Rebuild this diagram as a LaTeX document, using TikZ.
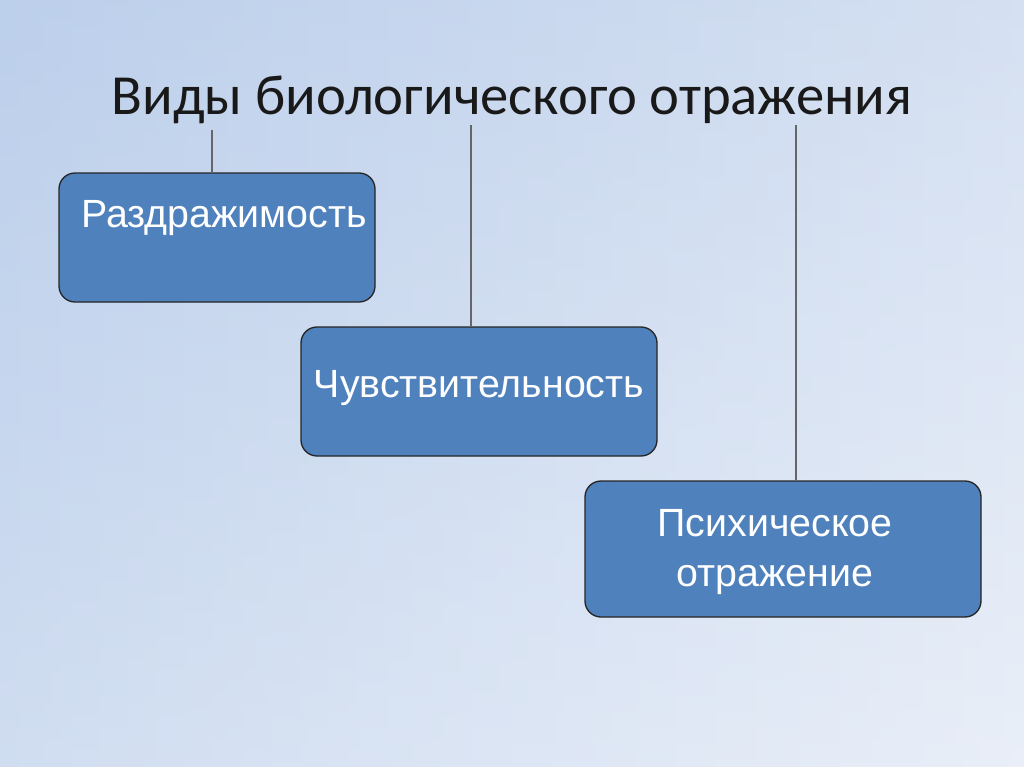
\documentclass[tikz,border=0pt]{standalone}
\usepackage{fontspec}
\setmainfont{Carlito}
\newfontfamily\boxfont{Liberation Sans}
\definecolor{bgL}{HTML}{BCCFEB}
\definecolor{bgR}{HTML}{E0E8F5}
\definecolor{boxfill}{HTML}{4F81BD}
\tikzset{x=0.75pt,y=-0.75pt,
 box/.style={draw=black!85,line width=1pt,fill=boxfill,rounded corners=12pt},
 btxt/.style={text=white,font=\boxfont\fontsize{29.5}{37}\selectfont,align=center,inner sep=0pt},
 conn/.style={draw=black!60,line width=0.8pt}}
\begin{document}
\begin{tikzpicture}
\useasboundingbox (0,0) rectangle (1024,767);
\shade[left color=bgL,right color=bgR] (0,0) rectangle (1024,767);
\shade[top color=bgL,bottom color=white,opacity=0.3] (0,0) rectangle (1024,767);
\node[font=\fontsize{42.5}{46}\selectfont,text=black!90,inner sep=0pt] (title) at (512,100) {Виды биологического отражения};
\node[box,minimum width=316*0.75pt,minimum height=129*0.75pt] (b1) at (217,237.5) {};
\node[box,minimum width=356*0.75pt,minimum height=129*0.75pt] (b2) at (479,391.5) {};
\node[box,minimum width=396*0.75pt,minimum height=136*0.75pt] (b3) at (783,549) {};
\node[btxt] (t1) at (224,218) {Раздражимость};
\node[btxt] (t2) at (479,388) {Чувствительность};
\node[btxt] (t3) at (775,552) {Психическое\\отражение};
\coordinate (c1) at (212,130);
\coordinate (c2) at (471,125);
\coordinate (c3) at (796,125);
\draw[conn] (c1) -- (c1 |- b1.north);
\draw[conn] (c2) -- (c2 |- b2.north);
\draw[conn] (c3) -- (c3 |- b3.north);
\end{tikzpicture}
\end{document}
